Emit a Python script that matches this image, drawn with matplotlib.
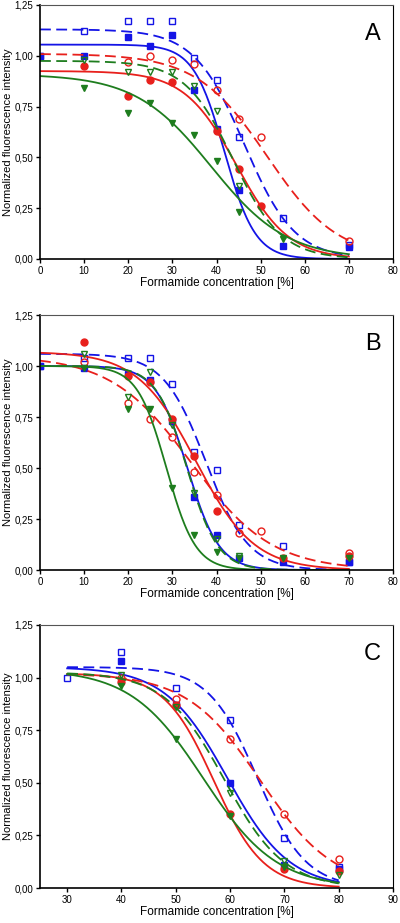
import matplotlib.pyplot as plt
import numpy as np
from matplotlib.ticker import FuncFormatter

plt.rcParams.update({"font.family": ["Liberation Sans", "DejaVu Sans"], "font.size": 7})

BLUE = "#1414e6"
RED = "#e8201c"
GREEN = "#1e7d1e"

# series order: blue filled, blue open, red filled, red open, green filled, green open
series_style = [
    (BLUE, "s", True, "-"),
    (BLUE, "s", False, "--"),
    (RED, "o", True, "-"),
    (RED, "o", False, "--"),
    (GREEN, "v", True, "-"),
    (GREEN, "v", False, "--"),
]

# Panel A
a_x = [
    [0, 10, 20, 25, 30, 35, 40, 45, 55, 70],
    [0, 10, 20, 25, 30, 35, 40, 45, 55, 70],
    [10, 20, 25, 30, 40, 45, 50],
    [20, 25, 30, 35, 40, 45, 50, 70],
    [10, 20, 25, 30, 35, 40, 45, 55],
    [10, 20, 25, 30, 35, 40, 45],
]
a_y = [
    [1.00, 1.00, 1.09, 1.05, 1.10, 0.83, 0.64, 0.34, 0.065, 0.06],
    [1.00, 1.12, 1.17, 1.17, 1.17, 0.99, 0.88, 0.60, 0.20, 0.07],
    [0.95, 0.80, 0.88, 0.87, 0.63, 0.445, 0.26],
    [0.97, 1.00, 0.98, 0.96, 0.83, 0.69, 0.60, 0.09],
    [0.84, 0.72, 0.77, 0.67, 0.61, 0.48, 0.23, 0.10],
    [0.98, 0.92, 0.92, 0.92, 0.85, 0.73, 0.36],
]
# fitted sigmoid parameters: top, x50, slope
a_fit = [
    (1.055, 41.8, 3.5),
    (1.13, 46.3, 5.7),
    (0.925, 44.5, 5.9),
    (1.01, 51.5, 8.0),
    (0.91, 38.8, 8.6),
    (0.975, 43.8, 5.5),
]

# Panel B
b_x = [
    [0, 10, 20, 25, 30, 35, 40, 45, 55, 70],
    [0, 10, 20, 25, 30, 35, 40, 45, 55, 70],
    [10, 20, 25, 30, 35, 40, 55, 70],
    [10, 20, 25, 30, 35, 40, 45, 50, 70],
    [10, 20, 25, 30, 35, 40, 45, 55, 70],
    [10, 20, 25, 30, 35, 40, 45],
]
b_y = [
    [1.00, 0.99, 0.96, 0.93, 0.73, 0.36, 0.17, 0.06, 0.04, 0.04],
    [1.00, 1.04, 1.04, 1.04, 0.91, 0.58, 0.49, 0.22, 0.12, 0.04],
    [1.12, 0.95, 0.92, 0.74, 0.56, 0.29, 0.06, 0.07],
    [1.02, 0.82, 0.74, 0.65, 0.48, 0.37, 0.18, 0.19, 0.085],
    [0.99, 0.79, 0.79, 0.40, 0.17, 0.09, 0.06, 0.06, 0.06],
    [1.06, 0.85, 0.97, 0.71, 0.38, 0.15, 0.07],
]
b_fit = [
    (1.00, 33.4, 3.6),
    (1.06, 37.6, 4.8),
    (1.07, 35.3, 6.6),
    (1.05, 34.3, 9.1),
    (1.00, 28.65, 3.3),
    (1.00, 33.3, 3.5),
]

# Panel C
c_x = [
    [40, 50, 60, 70, 80],
    [30, 40, 50, 60, 70, 80],
    [40, 50, 60, 70, 80],
    [40, 50, 60, 70, 80],
    [40, 50, 60, 70],
    [40, 50, 60, 70, 80],
]
c_y = [
    [1.08, 0.87, 0.50, 0.11, 0.09],
    [1.00, 1.12, 0.95, 0.80, 0.24, 0.10],
    [0.98, 0.87, 0.35, 0.09, 0.08],
    [1.00, 0.90, 0.71, 0.35, 0.14],
    [0.96, 0.71, 0.34, 0.10],
    [1.01, 0.86, 0.45, 0.13, 0.06],
]
c_fit = [
    (1.05, 59.45, 5.75),
    (1.05, 65.0, 4.5),
    (1.02, 57.0, 4.57),
    (1.02, 65.6, 6.77),
    (1.04, 55.1, 6.72),
    (1.025, 59.0, 5.5),
]

panels = [
    ("A", a_x, a_y, a_fit, (0, 70), (0, 80), range(0, 81, 10), [0.7194, 0.2752]),
    ("B", b_x, b_y, b_fit, (0, 70), (0, 80), range(0, 81, 10), [0.3824, 0.2763]),
    ("C", c_x, c_y, c_fit, (30, 80), (25, 90), range(30, 91, 10), [0.0379, 0.2850]),
]


def sigmoid(x, top, x50, slope):
    return top / (1 + np.exp((x - x50) / slope))


fig = plt.figure(figsize=(4.0, 9.23), dpi=100)
comma = FuncFormatter(lambda v, _: f"{v:.2f}".replace(".", ","))

for letter, xs, ys, fits, span, xlim, xticks, (bottom, height) in panels:
    ax = fig.add_axes([0.1, bottom, 0.8825, height])
    xx = np.linspace(span[0], span[1], 300)
    for (color, marker, filled, ls), x, y, fit in zip(series_style, xs, ys, fits):
        line, = ax.plot(xx, sigmoid(xx, *fit), color=color, linestyle=ls, linewidth=1.3)
        if ls == "--":
            line.set_dashes((6, 3))
        ax.plot(x, y, linestyle="none", marker=marker, markersize=5,
                markerfacecolor=color if filled else "none", markeredgecolor=color,
                markeredgewidth=1.0)
    ax.set_xlim(*xlim)
    ax.set_ylim(0, 1.25)
    ax.set_xticks(list(xticks))
    ax.set_yticks([0, 0.25, 0.5, 0.75, 1.0, 1.25])
    ax.yaxis.set_major_formatter(comma)
    ax.tick_params(direction="out", length=3, width=1, labelsize=7, pad=2)
    for side in ("left", "bottom"):
        ax.spines[side].set_linewidth(1.2)
    for side in ("top", "right"):
        ax.spines[side].set_linewidth(0.8)
    ax.spines["top"].set_color("#555555")
    ax.set_xlabel("Formamide concentration [%]", fontsize=8.5, labelpad=1)
    ax.set_ylabel("Normalized fluorescence intensity", fontsize=8, labelpad=1)
    ax.text(0.965, 0.93, letter, transform=ax.transAxes, ha="right", va="top", fontsize=17)

fig.savefig("out.png", dpi=100)
